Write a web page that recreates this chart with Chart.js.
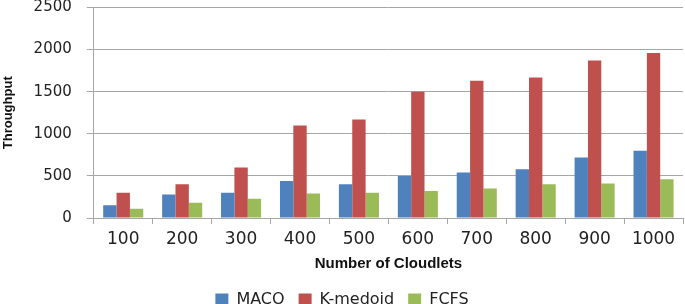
<!DOCTYPE html>
<html>
<head>
<meta charset="utf-8">
<script src="https://cdn.jsdelivr.net/npm/chart.js@4"></script>
<style>
  html, body { margin: 0; padding: 0; background: #fff; }
  #wrap { width: 685px; height: 304px; position: relative; }
</style>
</head>
<body>
<div id="wrap"><canvas id="grafico"></canvas></div>
<script>
// dati
var cloudlets = ["100", "200", "300", "400", "500", "600", "700", "800", "900", "1000"];
var maco     = [150, 280, 300, 440, 400, 500, 540, 580, 720, 800];
var kmedoid  = [300, 400, 600, 1100, 1170, 1500, 1630, 1670, 1870, 1960];
var fcfs     = [110, 180, 230, 290, 300, 320, 350, 400, 410, 460];
var yTicks   = [0, 500, 1000, 1500, 2000, 2500];

var grigio = "#a6a6a6";

var data = {
    labels: cloudlets,
    datasets: [
        { label: "MACO", backgroundColor: "#4F81BD", data: maco },
        { label: "K-medoid", backgroundColor: "#C0504D", data: kmedoid },
        { label: "FCFS", backgroundColor: "#9BBB59", data: fcfs }
    ]
};

var ctx = document.getElementById("grafico");
var myChart = new Chart(ctx, {
    type: "bar",
    data: data,
    options: {
        responsive: true,
        maintainAspectRatio: false,
        animation: false,
        devicePixelRatio: 1,
        datasets: { bar: { categoryPercentage: 0.68, barPercentage: 1.0 } },
        layout: { padding: { top: 0, right: 2, left: 1, bottom: -14 } },
        plugins: {
            tooltip: { enabled: false },
            legend: {
                position: "bottom",
                labels: {
                    boxWidth: 13, boxHeight: 13, padding: 14,
                    color: "#222",
                    font: { family: "DejaVu Sans", size: 16 }
                }
            }
        },
        scales: {
            x: {
                grid: { display: true, drawOnChartArea: false, drawTicks: true, tickLength: 6, color: grigio },
                border: { display: true, color: grigio },
                ticks: { color: "#222", padding: 7, font: { family: "DejaVu Sans", size: 17, lineHeight: 1 }, maxRotation: 0 },
                title: {
                    display: true, text: "Number of Cloudlets", color: "#111",
                    font: { family: "Liberation Sans", size: 15, weight: "bold" },
                    padding: { top: 0, bottom: 5 }
                }
            },
            y: {
                min: 0, max: 2500,
                afterBuildTicks: function (axis) {
                    axis.ticks = yTicks.map(function (v) { return { value: v }; });
                },
                grid: { color: grigio, drawTicks: true, tickLength: 7 },
                border: { display: true, color: grigio },
                ticks: {
                    color: "#222", padding: 0, font: { family: "DejaVu Sans", size: 15, lineHeight: 1 },
                    // spazio a destra per staccare le etichette dall'asse
                    callback: function (v) { return String(v) + "\u2002\u2002"; }
                },
                title: {
                    display: true, text: "Throughput", color: "#111",
                    font: { family: "Liberation Sans", size: 13, weight: "bold" },
                    padding: { top: 0, bottom: 17 }
                }
            }
        }
    }
});
</script>
</body>
</html>
